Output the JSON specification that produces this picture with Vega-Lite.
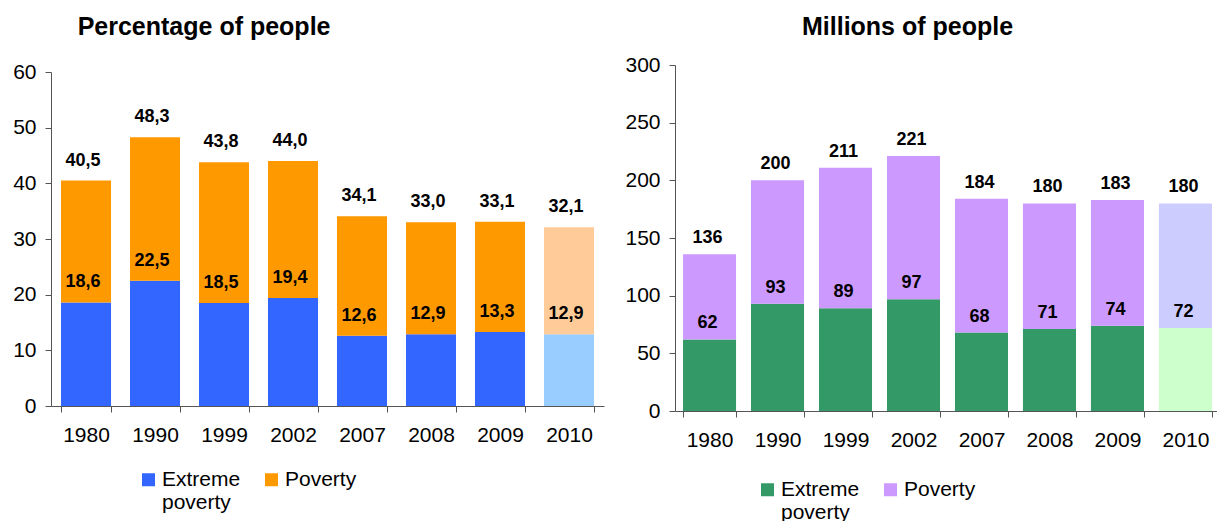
{
  "$schema": "https://vega.github.io/schema/vega-lite/v6.json",
  "padding": {"left": 12, "top": 15, "right": 0, "bottom": 0},
  "background": "white",
  "config": {
    "font": "Liberation Sans",
    "view": {"stroke": null},
    "locale": {"number": {"decimal": ",", "thousands": ".", "grouping": [3], "currency": ["", "€"]}},
    "axis": {"labelFont": "Liberation Sans", "labelFontSize": 21, "labelColor": "black", "domainColor": "#555", "tickColor": "#555", "grid": false, "title": null},
    "title": {"font": "Liberation Sans", "fontSize": 25, "fontWeight": "bold", "anchor": "start", "color": "black"},
    "legend": {"labelFont": "Liberation Sans", "labelFontSize": 21, "labelColor": "black", "symbolType": "square", "symbolSize": 169, "symbolStrokeWidth": 0, "labelOffset": 3}
  },
  "spacing": 20,
  "resolve": {"scale": {"color": "independent"}, "legend": {"color": "independent"}},
  "hconcat": [
    {
      "title": {"text": "Percentage of people", "dx": 65, "offset": 21},
      "width": 553,
      "height": 341,
      "data": {"values": [
        {"year": "1980", "kind": "Extreme poverty", "from": 0, "to": 18.6},
        {"year": "1980", "kind": "Poverty", "from": 18.6, "to": 40.5},
        {"year": "1990", "kind": "Extreme poverty", "from": 0, "to": 22.5},
        {"year": "1990", "kind": "Poverty", "from": 22.5, "to": 48.3},
        {"year": "1999", "kind": "Extreme poverty", "from": 0, "to": 18.5},
        {"year": "1999", "kind": "Poverty", "from": 18.5, "to": 43.8},
        {"year": "2002", "kind": "Extreme poverty", "from": 0, "to": 19.4},
        {"year": "2002", "kind": "Poverty", "from": 19.4, "to": 44.0},
        {"year": "2007", "kind": "Extreme poverty", "from": 0, "to": 12.6},
        {"year": "2007", "kind": "Poverty", "from": 12.6, "to": 34.1},
        {"year": "2008", "kind": "Extreme poverty", "from": 0, "to": 12.9},
        {"year": "2008", "kind": "Poverty", "from": 12.9, "to": 33.0},
        {"year": "2009", "kind": "Extreme poverty", "from": 0, "to": 13.3},
        {"year": "2009", "kind": "Poverty", "from": 13.3, "to": 33.1},
        {"year": "2010", "kind": "Extreme poverty (projected)", "from": 0, "to": 12.9},
        {"year": "2010", "kind": "Poverty (projected)", "from": 12.9, "to": 32.1}
      ]},
      "encoding": {
        "x": {"field": "year", "type": "nominal", "sort": null,
              "scale": {"paddingInner": 0.275, "paddingOuter": 0.145},
              "axis": {"labelAngle": 0, "tickBand": "extent", "tickSize": 6, "labelPadding": 12}},
        "y": {"field": "to", "type": "quantitative",
              "scale": {"domain": [0, 60], "nice": false, "range": [341, 7]},
              "axis": {"values": [0, 10, 20, 30, 40, 50, 60], "tickSize": 6, "labelPadding": 9}}
      },
      "layer": [
        {
          "mark": {"type": "bar"},
          "encoding": {
            "y": {"field": "from", "type": "quantitative"},
            "y2": {"field": "to"},
            "color": {"field": "kind", "type": "nominal",
              "scale": {"domain": ["Extreme poverty", "Poverty", "Extreme poverty (projected)", "Poverty (projected)"],
                        "range": ["#3366FF", "#FF9900", "#99CCFF", "#FFCC99"]},
              "legend": {"values": ["Extreme poverty", "Poverty"], "title": null, "orient": "none",
                         "direction": "horizontal", "legendX": 87, "legendY": 404, "columnPadding": 20,
                         "labelExpr": "datum.label == 'Extreme poverty' ? ['Extreme', 'poverty'] : [datum.label, ' ']"}}
          }
        },
        {
          "mark": {"type": "text", "fontWeight": "bold", "fontSize": 18, "baseline": "middle", "dy": -20, "dx": -3, "color": "black"},
          "encoding": {"text": {"field": "to", "type": "quantitative", "format": ".1f"}}
        }
      ]
    },
    {
      "title": {"text": "Millions of people", "dx": 177, "offset": 14},
      "width": 545,
      "height": 346,
      "data": {"values": [
        {"year": "1980", "kind": "Extreme poverty", "from": 0, "to": 62},
        {"year": "1980", "kind": "Poverty", "from": 62, "to": 136},
        {"year": "1990", "kind": "Extreme poverty", "from": 0, "to": 93},
        {"year": "1990", "kind": "Poverty", "from": 93, "to": 200},
        {"year": "1999", "kind": "Extreme poverty", "from": 0, "to": 89},
        {"year": "1999", "kind": "Poverty", "from": 89, "to": 211},
        {"year": "2002", "kind": "Extreme poverty", "from": 0, "to": 97},
        {"year": "2002", "kind": "Poverty", "from": 97, "to": 221},
        {"year": "2007", "kind": "Extreme poverty", "from": 0, "to": 68},
        {"year": "2007", "kind": "Poverty", "from": 68, "to": 184},
        {"year": "2008", "kind": "Extreme poverty", "from": 0, "to": 71},
        {"year": "2008", "kind": "Poverty", "from": 71, "to": 180},
        {"year": "2009", "kind": "Extreme poverty", "from": 0, "to": 74},
        {"year": "2009", "kind": "Poverty", "from": 74, "to": 183},
        {"year": "2010", "kind": "Extreme poverty (projected)", "from": 0, "to": 72},
        {"year": "2010", "kind": "Poverty (projected)", "from": 72, "to": 180}
      ]},
      "encoding": {
        "x": {"field": "year", "type": "nominal", "sort": null,
              "scale": {"paddingInner": 0.22, "paddingOuter": 0.118},
              "axis": {"labelAngle": 0, "tickBand": "extent", "tickSize": 6, "labelPadding": 12}},
        "y": {"field": "to", "type": "quantitative",
              "scale": {"domain": [0, 300], "nice": false},
              "axis": {"values": [0, 50, 100, 150, 200, 250, 300], "tickSize": 6, "labelPadding": 9}}
      },
      "layer": [
        {
          "mark": {"type": "bar"},
          "encoding": {
            "y": {"field": "from", "type": "quantitative"},
            "y2": {"field": "to"},
            "color": {"field": "kind", "type": "nominal",
              "scale": {"domain": ["Extreme poverty", "Poverty", "Extreme poverty (projected)", "Poverty (projected)"],
                        "range": ["#339966", "#CC99FF", "#CCFFCC", "#CCCCFF"]},
              "legend": {"values": ["Extreme poverty", "Poverty"], "title": null, "orient": "none",
                         "direction": "horizontal", "legendX": 82, "legendY": 414, "columnPadding": 20,
                         "labelExpr": "datum.label == 'Extreme poverty' ? ['Extreme', 'poverty'] : [datum.label, ' ']"}}
          }
        },
        {
          "mark": {"type": "text", "fontWeight": "bold", "fontSize": 18, "baseline": "middle", "dy": -16, "dx": -2, "color": "black"},
          "encoding": {"text": {"field": "to", "type": "quantitative", "format": "d"}}
        }
      ]
    }
  ]
}
